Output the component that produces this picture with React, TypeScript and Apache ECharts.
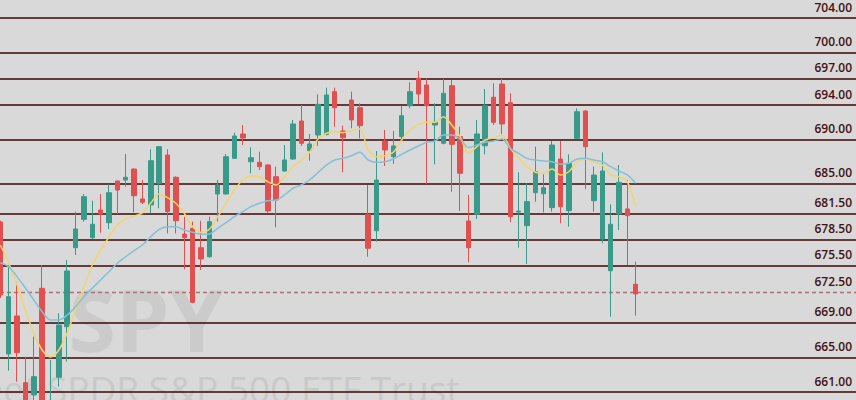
import { useEffect, useRef } from "react";
import * as echarts from "echarts";

// daily candles, oldest first
const opens = [
  680.55, 665.38, 669.75, 662.08, 660.67, 672.93, 658.8, 662.7, 668.52, 677.6,
  680.86, 678.75, 681.93, 680.47, 685.26, 685.38, 686.64, 683.2, 682.51, 685.0,
  688.25, 685.69, 679.17, 679.83, 677.6, 676.56, 683.77, 683.77, 687.87, 690.67,
  687.48, 687.41, 687.1, 685.76, 686.41, 687.79, 692.16, 688.75, 690.55, 690.63,
  695.53, 691.01, 694.57, 693.69, 681.44, 679.55, 689.86, 688.06, 690.36, 693.92,
  697.07, 696.3, 691.7, 689.6, 696.22, 690.36, 680.67, 681.44, 689.32, 694.89,
  696.41, 694.26, 681.7, 680.13, 683.92, 683.8, 682.2, 687.79, 681.85, 690.17,
  693.31, 683.0, 678.6, 674.95, 681.47, 682.05, 673.39,
];
const closes = [
  672.16, 671.97, 665.53, 659.0, 662.77, 659.3, 659.8, 668.71, 674.92, 679.75,
  683.46, 680.29, 681.47, 683.92, 684.23, 685.69, 683.57, 682.82, 687.6, 689.21,
  681.74, 680.7, 678.75, 671.32, 676.3, 680.59, 684.8, 688.06, 690.44, 690.21,
  687.94, 686.91, 681.82, 683.08, 687.68, 691.82, 689.6, 689.52, 694.08, 695.15,
  693.69, 690.24, 692.28, 691.62, 677.53, 685.38, 688.83, 689.29, 692.77, 695.53,
  695.26, 693.92, 692.01, 695.34, 689.48, 686.15, 677.6, 690.67, 693.92, 692.01,
  691.82, 681.16, 681.8, 682.89, 686.33, 684.49, 689.4, 682.31, 687.3, 693.23,
  689.21, 685.95, 686.41, 680.29, 685.11, 681.28, 672.28,
];
const lows = [
  671.8, 663.46, 662.2, 658.0, 659.5, 658.5, 657.5, 661.62, 664.5, 676.76,
  680.59, 678.6, 679.32, 679.75, 681.47, 684.61, 681.67, 682.62, 681.55, 682.13,
  679.25, 679.25, 675.11, 671.2, 675.03, 676.45, 680.59, 683.7, 687.8, 689.4,
  686.15, 686.53, 681.62, 679.94, 686.3, 687.7, 689.29, 687.6, 689.29, 690.5,
  691.51, 686.26, 691.32, 690.17, 676.56, 678.29, 686.99, 687.22, 689.86, 693.62,
  694.08, 684.89, 687.18, 689.48, 684.03, 681.82, 675.92, 680.9, 688.33, 691.7,
  690.63, 680.52, 677.6, 675.72, 682.89, 681.67, 681.74, 680.4, 680.01, 690.1,
  684.34, 681.74, 678.1, 669.67, 679.63, 675.61, 669.78,
];
const highs = [
  680.7, 675.61, 673.69, 665.07, 667.37, 675.61, 664.69, 670.06, 676.18, 681.74,
  683.77, 683.0, 683.77, 684.89, 685.3, 688.37, 686.7, 685.38, 688.91, 689.29,
  688.91, 685.8, 681.16, 680.59, 680.7, 681.16, 685.38, 688.37, 690.82, 691.7,
  689.14, 688.63, 687.2, 686.91, 689.4, 692.28, 694.0, 690.67, 695.23, 695.99,
  695.99, 691.62, 695.53, 694.2, 684.8, 688.71, 691.13, 691.01, 693.92, 696.61,
  697.91, 697.07, 694.2, 696.99, 696.87, 691.51, 683.66, 692.28, 695.84, 696.49,
  696.99, 695.34, 686.26, 685.0, 689.21, 686.03, 689.86, 689.86, 688.33, 693.62,
  693.4, 686.91, 688.56, 682.59, 687.1, 685.38, 675.99,
];

// moving averages as drawn (yellow = fast, blue = slow)
const maFast = [
  677.91, 675.84, 673.31, 670.44, 667.79, 665.84, 665.04, 665.84, 667.79, 670.44,
  673.08, 675.61, 677.33, 678.83, 680.21, 680.9, 681.24, 681.59, 682.74, 683.77,
  683.35, 682.7, 681.55, 680.01, 679.37, 679.71, 681.16, 682.7, 684.23, 685.38,
  685.84, 685.76, 685.18, 684.81, 685.76, 686.91, 687.6, 688.56, 690.09, 690.75,
  690.93, 690.82, 691.01, 691.24, 688.83, 688.06, 688.17, 688.56, 689.98, 691.13,
  691.78, 692.01, 692.01, 692.66, 691.7, 690.36, 688.45, 689.21, 689.98, 690.24,
  690.55, 689.02, 687.87, 686.91, 686.27, 686.15, 686.64, 685.96, 686.33, 687.48,
  687.79, 687.48, 687.1, 685.96, 685.76, 685.18, 682.31,
];
const maSlow = [
  675.87, 675.41, 674.27, 672.97, 671.59, 670.24, 669.29, 669.29, 669.86, 670.82,
  671.97, 672.93, 673.89, 674.84, 675.81, 676.56, 677.25, 677.91, 678.86, 679.71,
  680.01, 680.01, 679.63, 679.37, 679.14, 679.17, 679.83, 680.47, 681.16, 681.74,
  682.31, 682.7, 683.0, 683.08, 683.66, 684.43, 684.81, 685.38, 686.24, 687.1,
  687.68, 687.87, 688.17, 688.56, 687.68, 687.41, 687.48, 687.79, 688.33, 688.83,
  689.29, 689.71, 689.86, 690.55, 690.55, 690.09, 689.12, 689.4, 689.71, 689.86,
  690.09, 689.02, 688.45, 687.87, 687.68, 687.56, 687.48, 687.18, 687.3, 687.79,
  687.87, 687.68, 687.48, 686.91, 686.41, 685.96, 685.0,
];

// horizontal price levels with their right-hand labels
const levels = [704, 700, 697, 694, 690, 685, 681.5, 678.5, 675.5, 672.5, 669, 665, 661];
const currentLevel = 672.5;

const symbol = "SPY";
const description = "State Street SPDR S&P 500 ETF Trust";

export default function App() {
  const ref = useRef<HTMLDivElement | null>(null);

  useEffect(() => {
    if (!ref.current) return;
    const chart = echarts.init(ref.current, undefined, { renderer: "svg" });

    const candles = opens.map((o, i) => [i, o, closes[i], lows[i], highs[i]]);
    const lineColor = "#3c0606";

    chart.setOption({
      animation: false,
      backgroundColor: "#d9d9d9",
      grid: { left: 0, right: 0, top: 0, bottom: 0 },
      xAxis: { type: "value", min: -0.04, max: 102.35, show: false },
      yAxis: { type: "value", min: 660.09, max: 706.07, show: false, scale: true },
      graphic: [
        {
          type: "text",
          x: 146,
          y: 318,
          z: -10,
          style: {
            text: symbol,
            fill: "#cbcbcb",
            font: "bold 86px 'Open Sans', sans-serif",
            textAlign: "center",
            textVerticalAlign: "middle",
          },
        },
        {
          type: "text",
          x: 148,
          y: 388,
          z: -10,
          style: {
            text: description,
            fill: "#c9c9c9",
            font: "37px 'Open Sans', sans-serif",
            textAlign: "center",
            textVerticalAlign: "middle",
          },
        },
      ],
      series: [
        {
          type: "candlestick",
          data: candles,
          barWidth: 5,
          z: 3,
          itemStyle: {
            color: "#3a9a8a",
            color0: "#e05050",
            borderColor: "#3a9a8a",
            borderColor0: "#e05050",
            borderWidth: 1,
          },
          markLine: {
            silent: true,
            symbol: "none",
            animation: false,
            z: 1,
            lineStyle: { color: lineColor, width: 1.5, type: "solid" },
            label: {
              position: "insideEndTop",
              distance: [4, 5],
              color: "#441010",
              fontFamily: "'Open Sans', sans-serif",
              fontWeight: 600,
              fontSize: 12,
              formatter: (p: any) => Number(p.value).toFixed(2),
            },
            data: levels.map((v) =>
              v === currentLevel
                ? { yAxis: v, lineStyle: { color: "#a57474", type: [4, 3], width: 1.3 } }
                : { yAxis: v }
            ),
          },
        },
        {
          type: "line",
          data: maFast.map((v, i) => [i, v]),
          showSymbol: false,
          smooth: 0.3,
          z: 4,
          lineStyle: { color: "#f1d56c", width: 1.5 },
        },
        {
          type: "line",
          data: maSlow.map((v, i) => [i, v]),
          showSymbol: false,
          smooth: 0.3,
          z: 4,
          lineStyle: { color: "#85c0d6", width: 1.5 },
        },
      ],
    });

    return () => chart.dispose();
  }, []);

  return (
    <div
      ref={ref}
      style={{ position: "fixed", left: 0, top: 0, width: 856, height: 400 }}
    />
  );
}
